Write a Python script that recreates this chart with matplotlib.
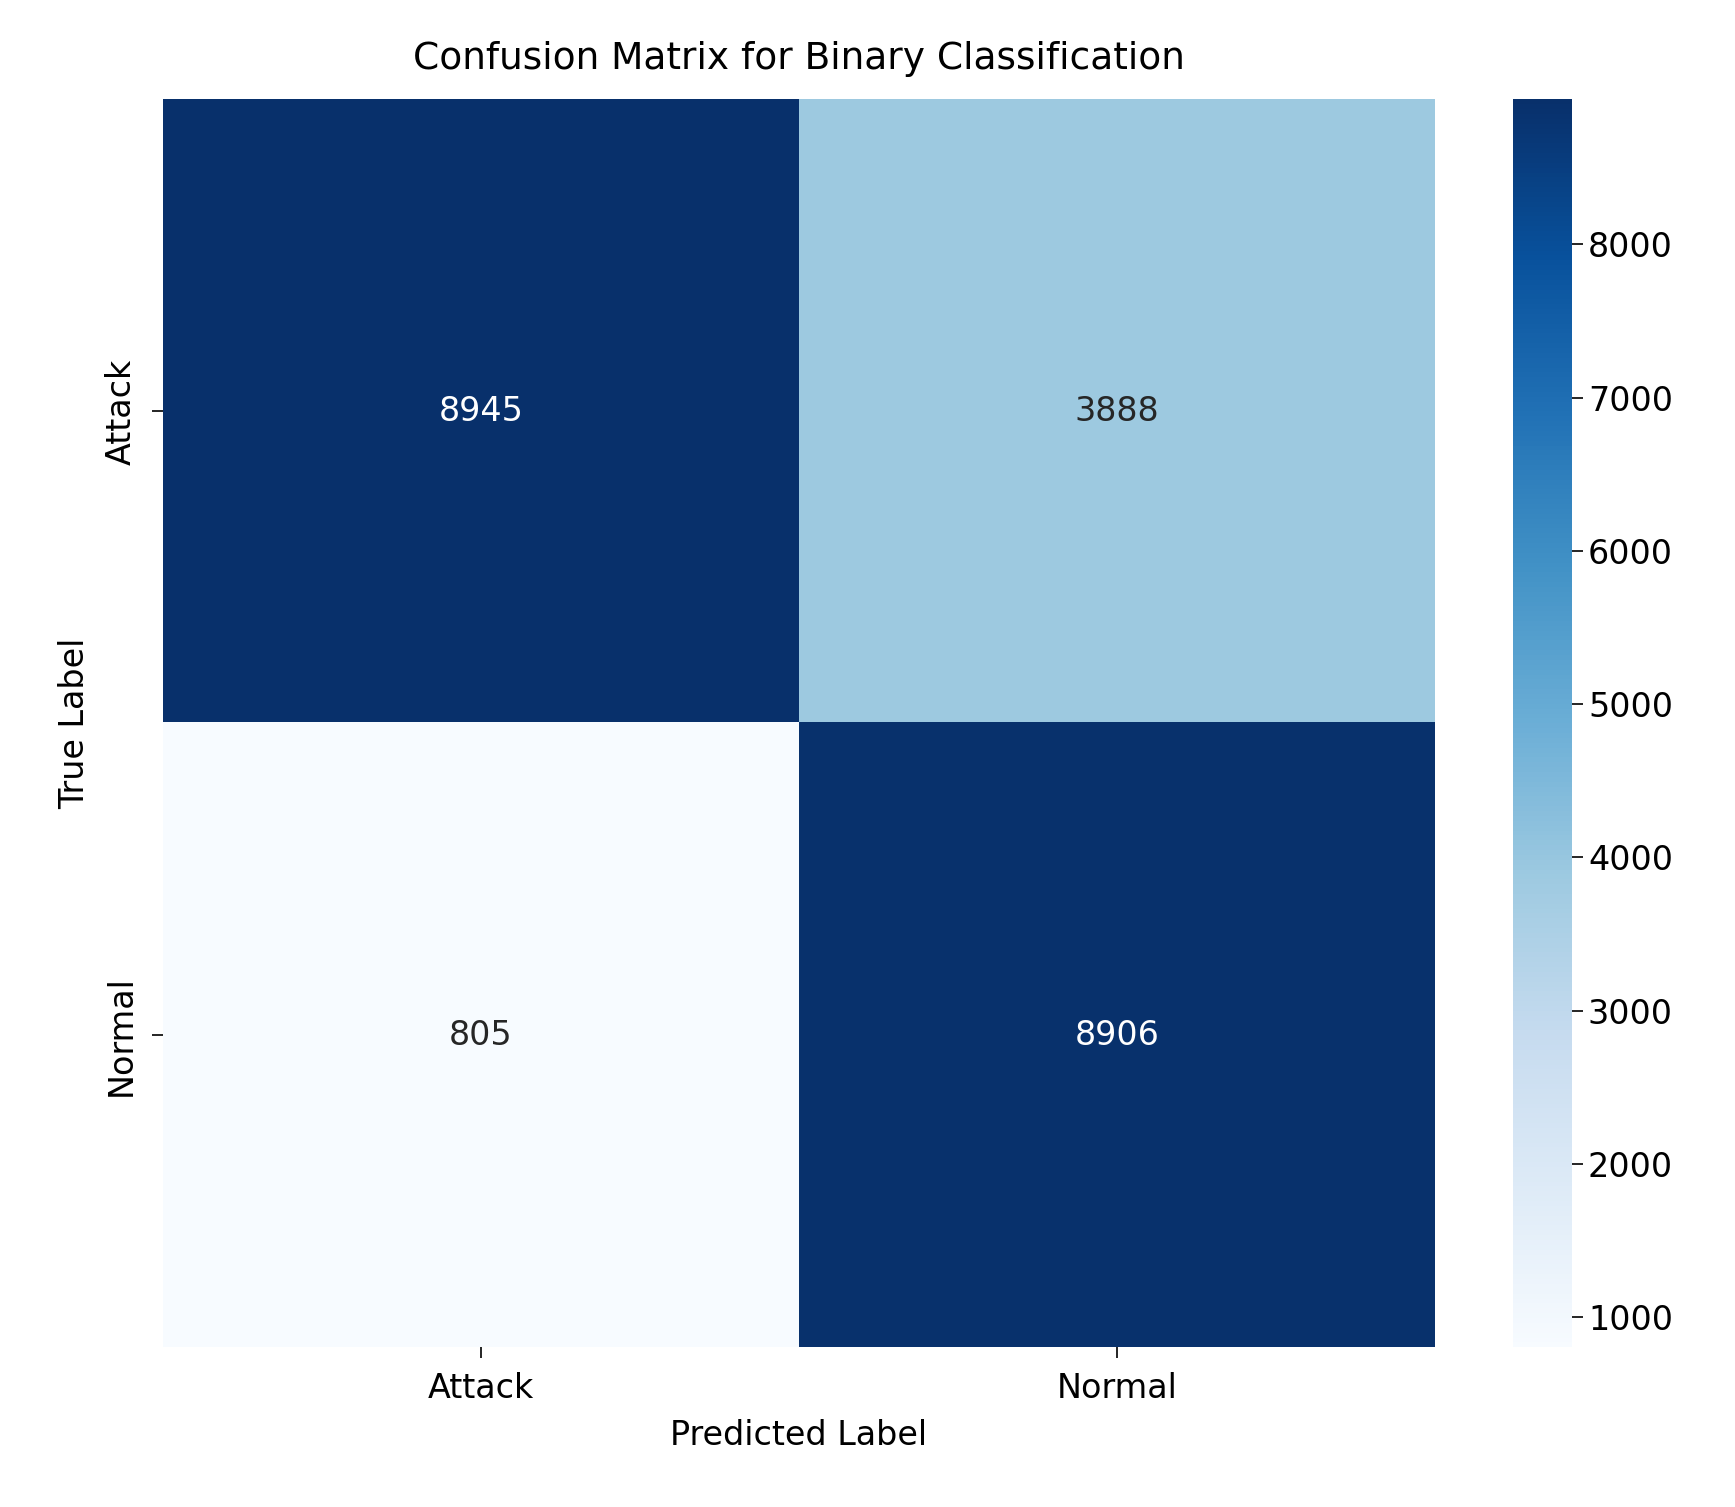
import matplotlib
matplotlib.use("Agg")
import matplotlib.pyplot as plt
import numpy as np

labels = ["Attack", "Normal"]
row_attack = [8945, 3888]
row_normal = [805, 8906]
cbar_ticks = [1000, 2000, 3000, 4000, 5000, 6000, 7000, 8000]

cm = np.array([row_attack, row_normal])
fig = plt.figure(figsize=(17.35, 15.07), dpi=100)
ax = fig.add_axes([0.094, 0.106, 0.733, 0.828])
cax = fig.add_axes([0.872, 0.106, 0.034, 0.828])
im = ax.imshow(cm, cmap="Blues", aspect="auto", vmin=cm.min(), vmax=cm.max())
for i in range(2):
    for j in range(2):
        v = cm[i, j]
        ax.text(j, i, str(v), ha="center", va="center", fontsize=24,
                color="white" if v > 5000 else "#262626")
ax.set_xticks(range(2))
ax.set_xticklabels(labels, fontsize=24)
ax.set_yticks(range(2))
ax.set_yticklabels(labels, fontsize=24, rotation=90, va="center")
ax.tick_params(length=8, width=1.2, pad=10)
for s in ax.spines.values():
    s.set_visible(False)
ax.set_xlabel("Predicted Label", fontsize=24, labelpad=10)
ax.set_ylabel("True Label", fontsize=24, labelpad=10)
ax.set_title("Confusion Matrix for Binary Classification", fontsize=27, pad=22)
cb = fig.colorbar(im, cax=cax, ticks=cbar_ticks)
cb.outline.set_visible(False)
cb.ax.tick_params(labelsize=24, length=8, width=1.2)
fig.savefig("out.png", dpi=100)
